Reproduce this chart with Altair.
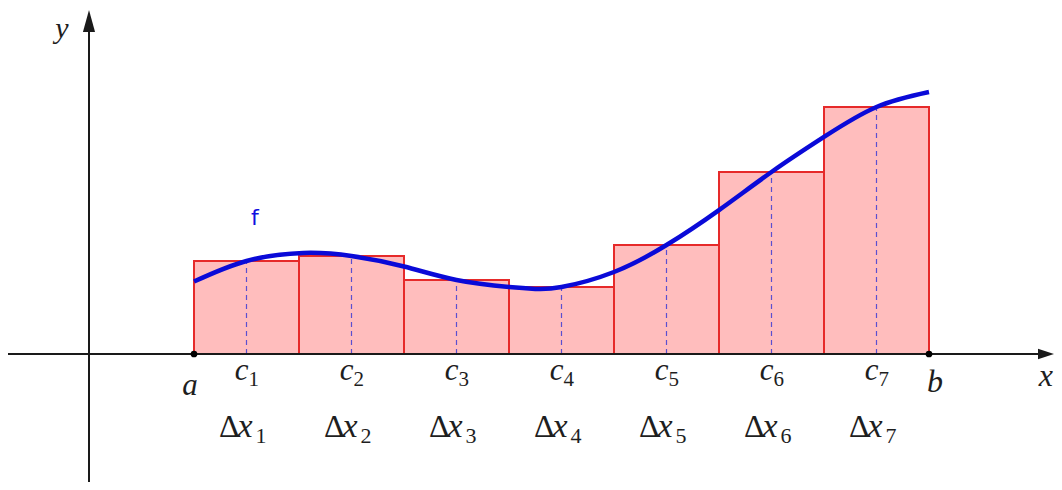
import altair as alt
import pandas as pd

# ---------------- data ----------------
partition = [1, 2, 3, 4, 5, 6, 7, 8]                 # a = x0 ... x7 = b
sample_points = [1.5, 2.5, 3.5, 4.5, 5.5, 6.5, 7.5]  # c1 ... c7
rect_heights = [0.886, 0.933, 0.705, 0.638, 1.038, 1.733, 2.352]  # f(c_i)
subscripts = ["1", "2", "3", "4", "5", "6", "7"]

curve_x = [1.0, 1.5, 2.04, 2.5, 3.0, 3.5, 4.0, 4.25, 4.5, 5.0, 5.5, 6.0, 6.5, 7.0, 7.5, 8.0]
curve_y = [0.69, 0.886, 0.962, 0.933, 0.833, 0.705, 0.638, 0.62, 0.638, 0.781,
           1.038, 1.371, 1.733, 2.067, 2.352, 2.495]

f_label_pos = [1.58, 1.23]

# ---------------- layout (scale) ----------------
W, H = 1046, 474
UNIT = 105.0          # pixels per data unit
ORIGIN_X = 81.0       # plot px of x = 0
ORIGIN_Y = 346.0      # plot px of y = 0
XMIN, XMAX = -ORIGIN_X / UNIT, (W - ORIGIN_X) / UNIT
YMIN, YMAX = -(H - ORIGIN_Y) / UNIT, ORIGIN_Y / UNIT
PX = 1.0 / UNIT

xs = alt.Scale(domain=[XMIN, XMAX], nice=False, zero=False)
ys = alt.Scale(domain=[YMIN, YMAX], nice=False, zero=False)

def X(f="x"):
    return alt.X(f"{f}:Q", scale=xs, axis=None, title=None)

def Y(f="y"):
    return alt.Y(f"{f}:Q", scale=ys, axis=None, title=None)

rects = pd.DataFrame({
    "x": partition[:-1], "x2": partition[1:],
    "y": [0.0] * 7, "y2": rect_heights,
    "c": sample_points, "sub": subscripts,
})
curve = pd.DataFrame({"x": curve_x, "y": curve_y})

# rectangles
rect_layer = alt.Chart(rects).mark_rect(
    fill="#ffbdbd", stroke="#e62a2a", strokeWidth=2
).encode(x=X("x"), x2="x2:Q", y=Y("y"), y2="y2:Q")

# dashed sample lines
dash_layer = alt.Chart(rects).mark_rule(
    color="#5a4fd0", strokeDash=[5, 4], strokeWidth=1.2
).encode(x=X("c"), y=Y("y"), y2="y2:Q")

# curve f
curve_layer = alt.Chart(curve).mark_line(
    color="#0a0ad8", strokeWidth=4.5, interpolate="natural"
).encode(x=X("x"), y=Y("y"))

# axes
x_tip = XMAX
y_tip = YMAX - 2 * PX
axes_df = pd.DataFrame({"x": [XMIN], "x2": [x_tip - 10 * PX], "y": [0.0]})
xaxis = alt.Chart(axes_df).mark_rule(color="#1a1a1a", strokeWidth=2).encode(
    x=X("x"), x2="x2:Q", y=Y("y"))
yaxis_df = pd.DataFrame({"x": [0.0], "y": [YMIN], "y2": [y_tip - 12 * PX]})
yaxis = alt.Chart(yaxis_df).mark_rule(color="#1a1a1a", strokeWidth=2).encode(
    x=X("x"), y=Y("y"), y2="y2:Q")

xarrow = alt.Chart(pd.DataFrame({"x": [x_tip - 8 * PX], "y": [0.0]})).mark_point(
    shape="M1,0L-1,-0.65L-1,0.65Z", size=256, filled=True, color="#1a1a1a", opacity=1
).encode(x=X("x"), y=Y("y"))
yarrow = alt.Chart(pd.DataFrame({"x": [0.0], "y": [y_tip - 11 * PX]})).mark_point(
    shape="M0,-1L0.55,1L-0.55,1Z", size=484, filled=True, color="#1a1a1a", opacity=1
).encode(x=X("x"), y=Y("y"))

# endpoints a, b
dots = alt.Chart(pd.DataFrame({"x": [partition[0], partition[-1]], "y": [0.0, 0.0]})).mark_point(
    shape="circle", size=45, filled=True, color="#000000", opacity=1
).encode(x=X("x"), y=Y("y"))

SERIF = "Liberation Serif"
TXT = "#1e1e1e"

def label(df, field, xf, yf, size, dx, dy, italic=True, align="center",
          color=TXT, font=SERIF):
    return alt.Chart(df).mark_text(
        font=font, fontSize=size, fontStyle="italic" if italic else "normal",
        align=align, baseline="alphabetic", dx=dx, dy=dy, color=color
    ).encode(x=X(xf), y=Y(yf), text=f"{field}:N")

rects["cl"] = "c"
rects["dl"] = "Δ"
rects["xl"] = "x"
c_main = label(rects, "cl", "c", "y", 31, -5, 26)
c_sub = label(rects, "sub", "c", "y", 21, 2, 32, italic=False, align="left")
d_main = label(rects, "dl", "c", "y", 32, -7, 83, italic=False, align="right")
dx_main = label(rects, "xl", "c", "y", 34, -9, 83, align="left")
dx_sub = label(rects, "sub", "c", "y", 22, 9, 89, italic=False, align="left")

ab = pd.DataFrame({"x": [partition[0], partition[-1]], "y": [0.0, 0.0], "t": ["a", "b"]})
a_lab = label(ab.iloc[[0]], "t", "x", "y", 31, -4, 41)
b_lab = label(ab.iloc[[1]], "t", "x", "y", 32, 6, 38)

xl = pd.DataFrame({"x": [XMAX], "y": [0.0], "t": ["x"]})
x_lab = label(xl, "t", "x", "y", 32, -1, 32, align="right")
yl = pd.DataFrame({"x": [0.0], "y": [YMAX], "t": ["y"]})
y_lab = label(yl, "t", "x", "y", 30, -27, 30)

fl = pd.DataFrame({"x": [f_label_pos[0]], "y": [f_label_pos[1]], "t": ["f"]})
f_lab = label(fl, "t", "x", "y", 22, 0, 0, italic=False, color="#1010e0", font="DejaVu Sans")

chart = alt.layer(
    rect_layer, dash_layer, curve_layer, xaxis, yaxis, xarrow, yarrow, dots,
    c_main, c_sub, d_main, dx_main, dx_sub, a_lab, b_lab, x_lab, y_lab, f_lab
).properties(
    width=W, height=H, padding=0,
    autosize=alt.AutoSizeParams(type="none"),
    background="white",
).configure_view(stroke=None)

chart.save("out.html", embed_options={"renderer": "svg", "actions": False})
